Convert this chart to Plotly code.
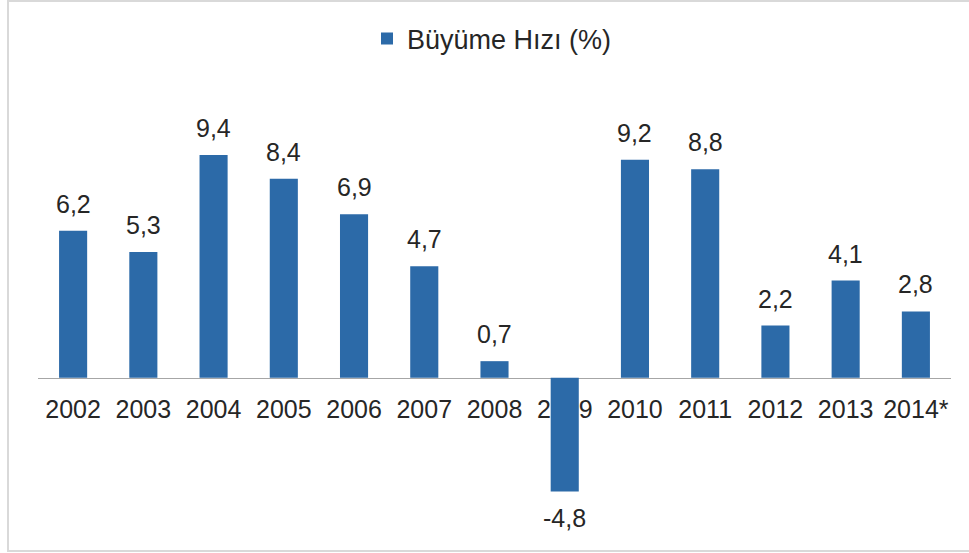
import plotly.graph_objects as go

years = ["2002", "2003", "2004", "2005", "2006", "2007", "2008", "2009",
         "2010", "2011", "2012", "2013", "2014*"]
growth = [6.2, 5.3, 9.4, 8.4, 6.9, 4.7, 0.7, -4.8, 9.2, 8.8, 2.2, 4.1, 2.8]
series_name = "Büyüme Hızı (%)"

BAR = "#2C6AA8"
TXT = "#262626"
FONT = "Liberation Sans, Arial, sans-serif"

W, H = 969, 553
L, R, T, B = 38, 18, 117, 33
ymin, ymax = -6, 11
pw, ph = W - L - R, H - T - B

def px_x(p):
    return (p - L) / pw

def px_y(p):
    return (H - B - p) / ph

idx = list(range(len(years)))

fig = go.Figure()
fig.add_trace(go.Bar(
    x=idx, y=growth, name=series_name, marker=dict(color=BAR, line=dict(width=0)),
    showlegend=True, width=0.4,
))

annotations = []
for i, v in zip(idx, growth):
    annotations.append(dict(
        x=i, y=v, xref="x", yref="y",
        text=f"{v:.1f}".replace(".", ","),
        showarrow=False,
        font=dict(family=FONT, size=25, color=TXT),
        yanchor="bottom" if v >= 0 else "top",
        yshift=11 if v >= 0 else -10,
    ))

fig.update_layout(
    width=W, height=H,
    margin=dict(l=L, r=R, t=T, b=B),
    paper_bgcolor="white", plot_bgcolor="white",
    font=dict(family=FONT, size=25, color=TXT),
    showlegend=True,
    legend=dict(
        orientation="h", x=px_x(492), xanchor="center",
        y=px_y(39), yanchor="middle",
        font=dict(family=FONT, size=27, color=TXT),
        bgcolor="rgba(0,0,0,0)",
    ),
    xaxis=dict(
        range=[-0.5, len(years) - 0.5],
        anchor="free", position=(0 - ymin) / (ymax - ymin),
        tickmode="array", tickvals=idx, ticktext=years,
        showline=True, linecolor="#A6A6A6", linewidth=1.3,
        ticks="outside", ticklen=9, tickcolor="rgba(0,0,0,0)",
        tickfont=dict(family=FONT, size=25, color=TXT),
        showgrid=False, zeroline=False, layer="below traces", fixedrange=True,
    ),
    yaxis=dict(
        range=[ymin, ymax], visible=False, showgrid=False, zeroline=False,
        fixedrange=True,
    ),
    annotations=annotations,
    shapes=[dict(
        type="rect", xref="paper", yref="paper",
        x0=px_x(8), x1=px_x(975), y0=px_y(551), y1=px_y(1),
        line=dict(color="#D9D9D9", width=2), fillcolor="rgba(0,0,0,0)",
        layer="below",
    )],
)

fig.write_html(
    "out.html",
    config={"displayModeBar": False},
    post_script="document.body.style.margin='0';document.body.style.overflow='hidden';",
)
